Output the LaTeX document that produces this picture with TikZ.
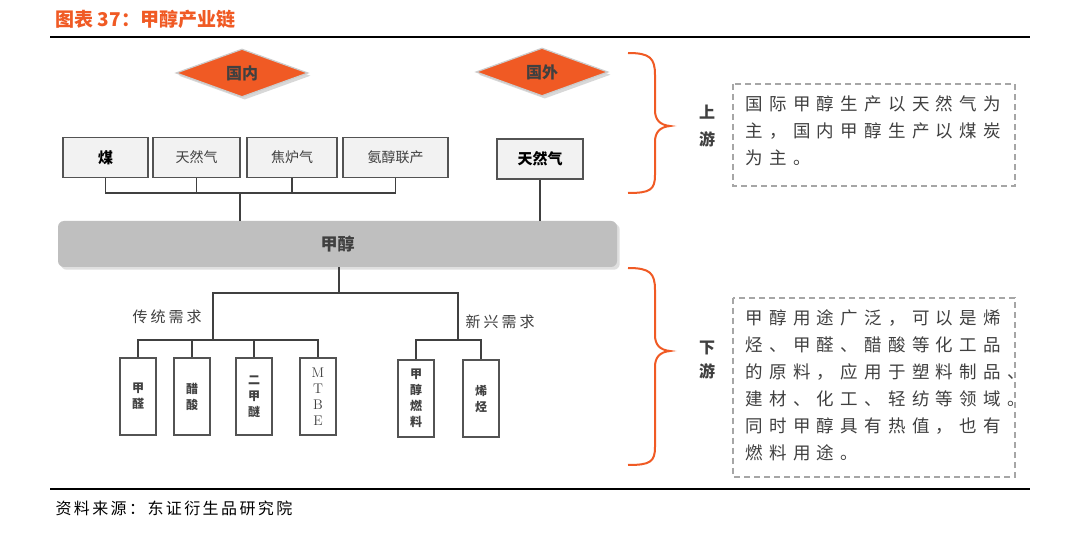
\documentclass[tikz,border=0pt]{standalone}
\usepackage{fontspec}
\setmainfont{Noto Sans CJK SC}
\newfontfamily\lmr{Latin Modern Roman}
\usetikzlibrary{shapes.geometric,shadows,decorations.pathreplacing}
\definecolor{orng}{HTML}{F05A24}
\definecolor{txt}{HTML}{404040}
\definecolor{boxfill}{HTML}{F2F2F2}
\begin{document}
\begin{tikzpicture}[x=1pt,y=-1pt,
  box/.style={draw=txt!90,line width=1.6pt,fill=boxfill,inner sep=0pt,font=\fontsize{14}{16}\selectfont},
  vbox/.style={draw=txt!90,line width=1.6pt,fill=white,inner sep=0pt,align=center,font=\fontsize{12}{16}\selectfont\bfseries,text=txt},
  dia/.style={diamond,aspect=2.6,fill=orng,draw=gray!40,line width=1.2pt,inner sep=0pt,minimum width=132pt,minimum height=48pt,font=\fontsize{16}{16}\selectfont\bfseries,text=txt,drop shadow={opacity=0.3}},
  conn/.style={draw=txt,line width=1.8pt},
  brace/.style={draw=orng,line width=2pt},
  dbox/.style={draw=gray!70,line width=1.6pt,dash pattern=on 6pt off 4pt},
  para/.style={anchor=west,text=txt,font=\fontsize{17.5}{20}\selectfont\addfontfeature{LetterSpace=36}},
  lab/.style={text=txt,font=\fontsize{15}{16}\selectfont\addfontfeature{LetterSpace=20}}]
\useasboundingbox (0,0) rectangle (1080,537);
\fill[white] (0,0) rectangle (1080,537);
% title
\node[anchor=west,text=orng,font=\fontsize{19}{20}\selectfont\bfseries] (title) at (52,19) {图表 37：甲醇产业链};
\draw[line width=1.2pt,black] (50,37) -- (1030,37);
\draw[line width=1.2pt,black] (50,489) -- (1030,489);
\node[anchor=west,font=\fontsize{16}{18}\selectfont\addfontfeature{LetterSpace=15},text=black] (src) at (52,508) {资料来源：东证衍生品研究院};
% diamonds
\node[dia] (dn) at (242,73) {国内};
\node[dia] (dw) at (542,72) {国外};
% boxes
\node[box,minimum width=85pt,minimum height=40pt,font=\fontsize{15}{16}\selectfont\bfseries] (b1) at (105.5,157.5) {煤};
\node[box,minimum width=87pt,minimum height=40pt,text=txt] (b2) at (196.5,157.5) {天然气};
\node[box,minimum width=90pt,minimum height=40pt,text=txt] (b3) at (292,157.5) {焦炉气};
\node[box,minimum width=105pt,minimum height=40pt,text=txt] (b4) at (395.5,157.5) {氨醇联产};
\node[box,minimum width=86pt,minimum height=40pt,font=\fontsize{15}{16}\selectfont\bfseries] (b5) at (540,159) {天然气};
% methanol bar
\node[draw=none,fill=gray!50,rounded corners=6pt,minimum width=559pt,minimum height=46pt,drop shadow={opacity=0.25},font=\fontsize{17}{18}\selectfont\bfseries,text=txt] (bar) at (337.5,244) {甲醇};
% upper connectors
\coordinate (ub) at (240,193);
\draw[conn] (b1.south) |- (b2.south|-ub) -- (b2.south);
\draw[conn] (b2.south|-ub) -- (b4.south|-ub) -- (b4.south);
\draw[conn] (b3.south) -- (b3.south|-ub);
\draw[conn] (ub) -- (ub|-bar.north);
\draw[conn] (b5.south) -- (b5.south|-bar.north);
% lower boxes
\node[vbox,minimum width=36pt,minimum height=77pt] (c1) at (138,396.5) {甲\\醛};
\node[vbox,minimum width=36pt,minimum height=77pt] (c2) at (192,396.5) {醋\\酸};
\node[vbox,minimum width=36pt,minimum height=77pt] (c3) at (254,396.5) {二\\甲\\醚};
\node[vbox,minimum width=36pt,minimum height=77pt,font=\fontsize{14}{16}\selectfont\lmr] (c4) at (318,396.5) {M\\T\\B\\E};
\node[vbox,minimum width=36pt,minimum height=77pt] (c5) at (416,398.5) {甲\\醇\\燃\\料};
\node[vbox,minimum width=36pt,minimum height=77pt] (c6) at (481,398.5) {烯\\烃};
% lower connectors
\coordinate (lt) at (339,293);
\coordinate (lb) at (213,340);
\coordinate (rb) at (458,340);
\draw[conn] (lt|-bar.south) -- (lt);
\draw[conn] (lb) |- (lt) -| (rb);
\draw[conn] (c1.north) |- (lb) -| (c4.north);
\draw[conn] (c2.north) -- (c2.north|-lb);
\draw[conn] (c3.north) -- (c3.north|-lb);
\draw[conn] (c5.north) |- (rb) -| (c6.north);
\node[lab] (l1) at (167,317) {传统需求};
\node[lab] (l2) at (500,322) {新兴需求};
% braces
\draw[brace] (628,53) .. controls (650,53) and (655,58) .. (655,75) -- (655,110) .. controls (655,120) and (660,125) .. (670,126) .. controls (660,127) and (655,132) .. (655,142) -- (655,175) .. controls (655,190) and (650,193) .. (628,193);
\draw[brace] (628,268) .. controls (650,268) and (655,273) .. (655,290) -- (655,335) .. controls (655,345) and (660,350) .. (670,351) .. controls (660,352) and (655,357) .. (655,367) -- (655,447) .. controls (655,462) and (650,465) .. (628,465);
\node[align=center,font=\fontsize{16}{27}\selectfont\bfseries,text=txt] (up) at (707,126) {上\\游};
\node[align=center,font=\fontsize{16}{24}\selectfont\bfseries,text=txt] (dn2) at (707,360) {下\\游};
% dashed boxes
\draw[dbox] (733,84) rectangle (1015,186);
\draw[dbox] (733,298) rectangle (1015,477);
\node[para] (p1) at (742,104) {国际甲醇生产以天然气为};
\node[para] (p2) at (742,131) {主，国内甲醇生产以煤炭};
\node[para] (p3) at (742,158) {为主。};
\node[para] (q1) at (742,318) {甲醇用途广泛，可以是烯};
\node[para] (q2) at (742,345) {烃、甲醛、醋酸等化工品};
\node[para] (q3) at (742,372) {的原料，应用于塑料制品、};
\node[para] (q4) at (742,399) {建材、化工、轻纺等领域。};
\node[para] (q5) at (742,426) {同时甲醇具有热值，也有};
\node[para] (q6) at (742,453) {燃料用途。};
\end{tikzpicture}
\end{document}
